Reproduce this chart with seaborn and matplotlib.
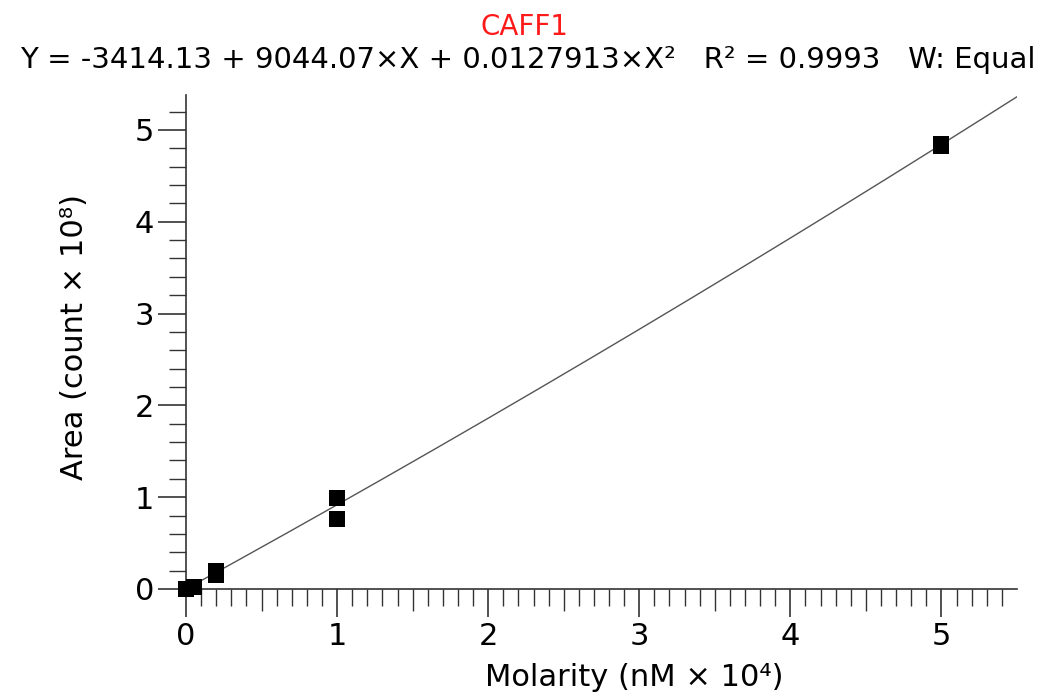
import numpy as np
import pandas as pd
import matplotlib
matplotlib.use("Agg")
import matplotlib.pyplot as plt
import seaborn as sns
from matplotlib.ticker import MultipleLocator, FixedLocator

# Data (x in nM x 10^4, y in count x 10^8)
molarity = [0.0, 0.05, 0.2, 0.2, 1.0, 1.0, 5.0, 5.0]
area = [0.0, 0.02, 0.2, 0.15, 0.99, 0.76, 4.85, 4.83]

# Fit coefficients (Y = c0 + c1*X + c2*X^2, X in nM, Y in counts)
c0, c1, c2 = -3414.13, 9044.07, 0.0127913
fit_x = np.linspace(0, 5.5, 200)
fit_X = fit_x * 1e4
fit_y = (c0 + c1 * fit_X + c2 * fit_X ** 2) / 1e8

sns.set_theme(style="ticks")
plt.rcParams['font.family'] = ['DejaVu Sans']

fig = plt.figure(figsize=(10.47, 6.93), dpi=100)
ax = fig.add_axes([186 / 1047, 1 - 589 / 693, (1017 - 186) / 1047, (589 - 95) / 693])

sns.lineplot(x=fit_x, y=fit_y, ax=ax, color="#555555", linewidth=1.0)
sns.scatterplot(x=molarity, y=area, ax=ax, marker="s", s=130, color="black",
                edgecolor="black", linewidth=0, zorder=5, clip_on=False)

ax.set_xlim(0, 5.5)
ax.set_ylim(0, 5.38)
for s in ["top", "right"]:
    ax.spines[s].set_visible(False)
for s in ["left", "bottom"]:
    ax.spines[s].set_color("#333333")
    ax.spines[s].set_linewidth(1.2)

ax.xaxis.set_major_locator(MultipleLocator(1))
ax.yaxis.set_major_locator(MultipleLocator(1))
xminor = [i / 10 for i in range(1, 55) if i % 10 != 0 and i % 10 != 5]
ax.xaxis.set_minor_locator(FixedLocator(xminor))
ax.yaxis.set_minor_locator(MultipleLocator(0.2))
ax.tick_params(which="major", length=20, width=1.2, color="#333333", labelsize=22,
               labelcolor="black", direction="out", pad=4)
ax.tick_params(axis="y", which="major", pad=3)
ax.tick_params(which="minor", length=12, width=1.0, color="#333333", direction="out")

sec = ax.secondary_xaxis(0)
sec.set_xticks([0.5, 1.5, 2.5, 3.5, 4.5])
sec.set_xticklabels([])
sec.tick_params(length=16, width=1.0, color="#333333")
sec.spines["bottom"].set_visible(False)

ax.set_xlabel("Molarity (nM \u00d7 10\u2074)", fontsize=22, color="black")
ax.set_ylabel("Area (count \u00d7 10\u2078)", fontsize=22, color="black")
ax.xaxis.set_label_coords((634 - 186) / 831, -(678 - 589) / 494)
ax.yaxis.set_label_coords(-(186 - 75) / 831, (589 - 337) / 494)
ax.xaxis.label.set_va("center")
ax.yaxis.label.set_va("center")

fig.text(525 / 1047, 1 - 27 / 693, "CAFF1", color="#ff1a1a", fontsize=20, ha="center", va="center")
fig.text(528 / 1047, 1 - 60 / 693,
         "Y = -3414.13 + 9044.07\u00d7X + 0.0127913\u00d7X\u00b2   R\u00b2 = 0.9993   W: Equal",
         color="black", fontsize=21, ha="center", va="center")

fig.savefig("out.png", dpi=100, facecolor="white")
